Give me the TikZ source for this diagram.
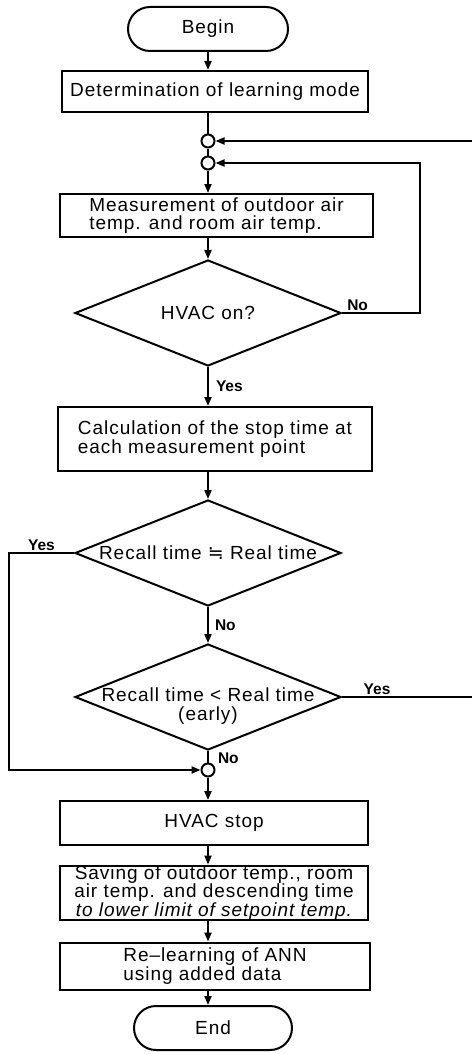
\documentclass[tikz,border=0pt]{standalone}
\usepackage{fontspec}
\setmainfont{Liberation Sans}
\newfontfamily\boxfont{Liberation Sans}[LetterSpace=5]
\newfontfamily\symfont{DejaVu Sans}
\usepackage{tikz}
\usetikzlibrary{arrows.meta,positioning,shapes.geometric,shapes.misc}

\begin{document}
\begin{tikzpicture}[x=1pt, y=-1pt, >={Triangle[length=9pt,width=7pt]}, line width=2pt,
		every node/.style={font=\boxfont\fontsize{19}{18.6}\selectfont},
		box/.style={draw, rectangle, align=left, inner sep=0pt},
		term/.style={draw, rounded rectangle, inner sep=0pt, minimum width=160pt, minimum height=44pt},
		decision/.style={draw, diamond, inner sep=0pt, minimum width=266pt, minimum height=106pt},
		junction/.style={draw, circle, inner sep=0pt, minimum size=13pt},
		lbl/.style={font=\normalfont\bfseries\fontsize{15.5}{16}\selectfont, inner sep=1pt}]
			% Parameters
			\def\ax{208} % x van de hoofdas

			\useasboundingbox (0,0) rectangle (471,1054);

			% --- Begin en leermodus ---
			\node[term] (begin) at (\ax,29) {Begin};
			\node[box, minimum width=306pt, minimum height=41pt] (mode) at (215,91.5) {Determination of learning mode};

			% Samenkomstpunten
			\node[junction] (jn1) at (\ax,141) {};
			\node[junction] (jn2) at (\ax,163) {};

			% --- Meting en HVAC ---
			\node[box, minimum width=313pt, minimum height=43pt] (meas) at (216.5,215.5) {Measurement of outdoor air\\temp. and room air temp.};
			\node[decision] (hvacon) at (\ax,313) {};
			\node at (hvacon) {HVAC on?};
			\node[box, minimum width=314pt, minimum height=64pt] (calc) at (215,439) {Calculation of the stop time at\\each measurement point};

			% --- Beslissingen over de tijd ---
			\node[decision] (recalleq) at (\ax,553) {};
			\node at (recalleq) {Recall time {\symfont ≒} Real time};
			\node[decision] (recallless) at (\ax,697) {};
			\node[align=center] at (\ax,706) {Recall time < Real time\\(early)};
			\node[junction] (jn3) at (\ax,770) {};

			% --- Stoppen en opnieuw leren ---
			\node[box, minimum width=308pt, minimum height=44pt] (stop) at (214,823) {HVAC stop};
			\node[box, minimum width=308pt, minimum height=54pt, align=center] (save) at (214,893) {Saving of outdoor temp., room\\air temp. and descending time\\\itshape to lower limit of setpoint temp.};
			\node[box, minimum width=310pt, minimum height=47pt] (relearn) at (215,966) {Re–learning of ANN\\using added data};
			\node[term, minimum width=158pt] (finish) at (213,1028) {End};

			% Hulppunten voor de lussen
			\coordinate (inner) at (420,163);
			\coordinate (outer) at (477,141);
			\coordinate (leftloop) at (9,770);

			% --- Verbindingen langs de as ---
			\draw[->] (begin) -- (mode.north -| begin);
			\draw (mode.south -| jn1) -- (jn1);
			\draw (jn1) -- (jn2);
			\draw[->] (jn2) -- (meas.north -| jn2);
			\draw[->] (meas.south -| jn2) -- (hvacon);
			\draw[->] (hvacon) -- (calc.north -| hvacon) node[lbl, midway, right=6pt] {Yes};
			\draw[->] (calc.south -| hvacon) -- (recalleq);
			\draw[->] (recalleq) -- (recallless) node[lbl, midway, right=5pt] {No};
			\draw (recallless) -- (jn3) node[lbl, pos=0.6, right=8pt] {No};
			\draw[->] (jn3) -- (stop.north -| jn3);
			\draw[->] (stop.south -| jn3) -- (save.north -| jn3);
			\draw[->] (save.south -| jn3) -- (relearn.north -| jn3);
			\draw[->] (relearn.south -| jn3) -- (finish.north -| jn3);

			% --- Lussen ---
			\draw[->] (hvacon.east) -- (hvacon.east -| inner) node[lbl, pos=0.2, above] {No} |- (jn2);
			\draw[->] (recalleq.west) -- (recalleq.west -| leftloop) node[lbl, midway, above] {Yes} |- (jn3);
			\draw[->] (recallless.east) -- (recallless.east -| outer) node[lbl, pos=0.26, above] {Yes} |- (jn1);

		\end{tikzpicture}
\end{document}
